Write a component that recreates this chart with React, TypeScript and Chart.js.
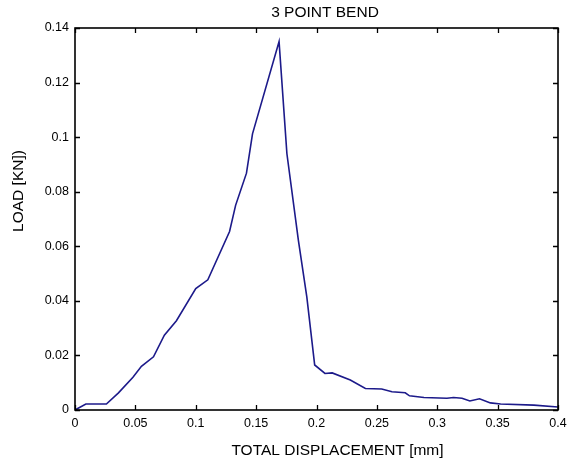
import React, { useEffect, useRef } from "react";
import { Chart, registerables } from "chart.js";

Chart.register(...registerables);

const displacement = [
  0, 0.009, 0.026, 0.036, 0.048, 0.055, 0.065, 0.074, 0.084, 0.1, 0.11, 0.128,
  0.133, 0.142, 0.147, 0.169, 0.1755, 0.185, 0.192, 0.1985, 0.207, 0.213,
  0.228, 0.2405, 0.254, 0.2625, 0.2735, 0.277, 0.289, 0.308, 0.3135, 0.3205,
  0.327, 0.335, 0.344, 0.3525, 0.38, 0.4,
];
const load = [
  0, 0.0022, 0.0022, 0.0063, 0.012, 0.016, 0.0195, 0.0274, 0.0327, 0.0445,
  0.0477, 0.0654, 0.075, 0.0868, 0.1012, 0.135, 0.0939, 0.0622, 0.0414, 0.0165,
  0.0134, 0.0136, 0.011, 0.0079, 0.0077, 0.0067, 0.0063, 0.0052, 0.0046,
  0.0043, 0.0046, 0.0043, 0.0033, 0.0041, 0.0026, 0.0022, 0.0018, 0.0011,
];
const xTickLabels = ["0", "0.05", "0.1", "0.15", "0.2", "0.25", "0.3", "0.35", "0.4"];
const yTickLabels = ["0", "0.02", "0.04", "0.06", "0.08", "0.1", "0.12", "0.14"];

const FONT = "'Liberation Sans', Arial, Helvetica, sans-serif";

const boxTicksPlugin = {
  id: "boxTicks",
  afterDraw(chart: any) {
    const { ctx, chartArea } = chart;
    const { left, right, top, bottom } = chartArea;
    const xs = chart.scales.x;
    const ys = chart.scales.y;
    const len = 5;
    ctx.save();
    ctx.strokeStyle = "#000";
    ctx.lineWidth = 1.3;
    ctx.beginPath();
    xs.ticks.forEach((t: any) => {
      const px = Math.round(xs.getPixelForValue(t.value)) + 0.5;
      ctx.moveTo(px, bottom);
      ctx.lineTo(px, bottom - len);
      ctx.moveTo(px, top);
      ctx.lineTo(px, top + len);
    });
    ys.ticks.forEach((t: any) => {
      const py = Math.round(ys.getPixelForValue(t.value)) + 0.5;
      ctx.moveTo(left, py);
      ctx.lineTo(left + len, py);
      ctx.moveTo(right, py);
      ctx.lineTo(right - len, py);
    });
    ctx.stroke();
    ctx.lineWidth = 1.6;
    ctx.strokeRect(left, top, right - left, bottom - top);
    ctx.restore();
  },
};

// shifts the chart and axis titles to where the reference places them
const titleShiftPlugin = {
  id: "titleShift",
  afterLayout(chart: any) {
    const shifts: [string, number, number][] = [
      ["x", 21, 0],
      ["y", 1, -28],
    ];
    shifts.forEach(([id, dx, dy]) => {
      const s = chart.scales[id];
      if (s && !s.__shifted) {
        const orig = s.drawTitle;
        s.drawTitle = function (...args: any[]) {
          const c = this.ctx;
          c.save();
          c.translate(dx, dy);
          orig.apply(this, args);
          c.restore();
        };
        s.__shifted = true;
      }
    });
    const tb = chart.titleBlock;
    if (tb) {
      const cx = (chart.chartArea.left + chart.chartArea.right) / 2 + 8.5;
      const half = (tb.right - tb.left) / 2;
      tb.left = cx - half;
      tb.right = cx + half;
    }
  },
};

export default function App() {
  const ref = useRef<HTMLCanvasElement>(null);
  useEffect(() => {
    if (!ref.current) return;
    const chart = new Chart(ref.current, {
      type: "line",
      data: {
        datasets: [
          {
            data: displacement.map((x, i) => ({ x, y: load[i] })),
            borderColor: "#1c1a8a",
            borderWidth: 1.6,
            pointRadius: 0,
            fill: false,
            tension: 0,
          },
        ],
      },
      options: {
        animation: false,
        responsive: false,
        layout: { padding: { left: 0, right: 9, top: 0, bottom: 0 } },
        plugins: {
          legend: { display: false },
          tooltip: { enabled: false },
          title: {
            display: true,
            text: "3 POINT BEND",
            color: "#000",
            font: { family: FONT, size: 15.5, weight: "normal" },
            padding: { top: 3.5, bottom: 5.9 },
          },
        },
        scales: {
          x: {
            type: "linear",
            min: 0,
            max: 0.4,
            afterFit: (s: any) => {
              s.height = 50;
              s.paddingLeft = 0;
              s.paddingRight = 0;
            },
            ticks: {
              stepSize: 0.05,
              color: "#000",
              padding: 6.5,
              maxRotation: 0,
              font: { family: FONT, size: 12.5 },
              callback: (_v: any, i: number) => xTickLabels[i],
            },
            grid: { display: false, drawTicks: false },
            border: { display: false },
            title: {
              display: true,
              text: "TOTAL DISPLACEMENT [mm]",
              color: "#000",
              font: { family: FONT, size: 15.5 },
              padding: { top: 0, bottom: 0 },
            },
          },
          y: {
            type: "linear",
            min: 0,
            max: 0.14,
            afterFit: (s: any) => {
              s.width = 75;
              s.paddingTop = 0;
              s.paddingBottom = 0;
            },
            ticks: {
              stepSize: 0.02,
              color: "#000",
              padding: 6,
              font: { family: FONT, size: 12.5 },
              callback: (_v: any, i: number) => yTickLabels[i],
            },
            grid: { display: false, drawTicks: false },
            border: { display: false },
            title: {
              display: true,
              text: "LOAD [KN])",
              color: "#000",
              font: { family: FONT, size: 15.5 },
              padding: { top: 8.7, bottom: 0 },
            },
          },
        },
      },
      plugins: [boxTicksPlugin, titleShiftPlugin],
    });
    return () => chart.destroy();
  }, []);
  return (
    <div style={{ position: "absolute", left: 0, top: 0, width: 567, height: 460, background: "#fff" }}>
      <canvas ref={ref} width={567} height={460} />
    </div>
  );
}
